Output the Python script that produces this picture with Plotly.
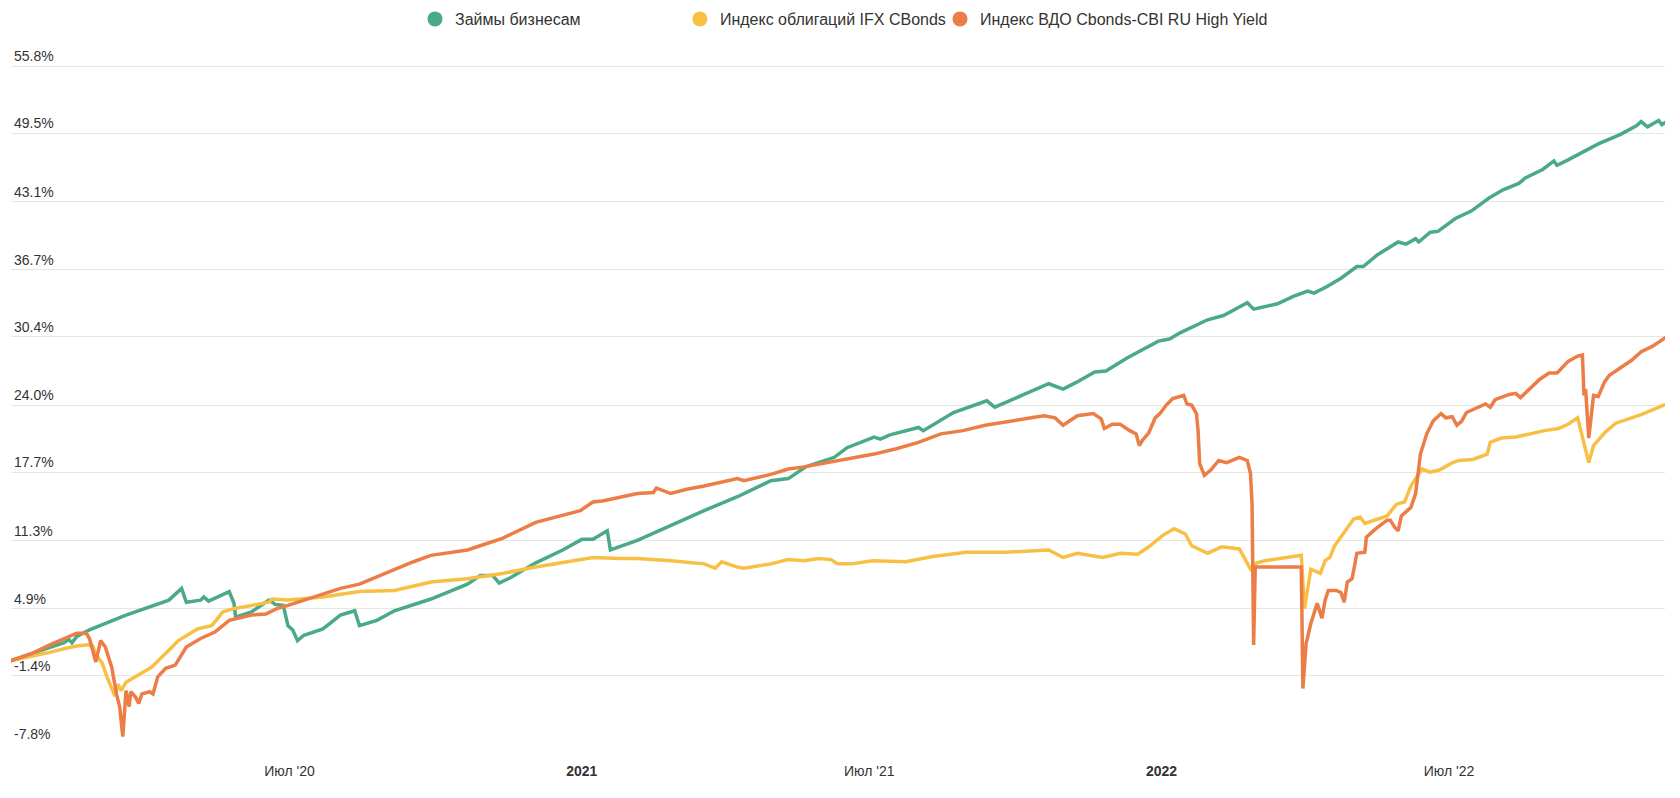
import datetime as dt
import plotly.graph_objects as go

BASE = dt.date(2020, 1, 1)

series_names = ["Займы бизнесам", "Индекс облигаций IFX CBonds", "Индекс ВДО Cbonds-CBI RU High Yield"]
series_colors = ["#4BAA86", "#F7C045", "#EC7D47"]

# day offsets from 2020-01-01 and cumulative return, %
green_day = [6, 27, 40, 43, 45, 48, 56, 79, 97, 106, 114, 117, 126, 128, 131, 144, 147, 148, 158, 169,
             173, 178, 181, 184, 187, 191, 203, 214, 223, 226, 237, 248, 271, 294, 302, 310, 314, 321, 337, 354,
             366, 373, 382, 384, 401, 422, 443, 464, 485, 496, 507, 525, 533, 550, 554, 560, 578, 581, 600, 621,
             626, 643, 660, 669, 677, 689, 696, 709, 719, 729, 736, 743, 760, 770, 780, 785, 789, 804, 814, 823,
             827, 835, 844, 854, 858, 867, 880, 885, 891, 893, 900, 905, 916, 926, 937, 946, 956, 960, 971, 978,
             980, 987, 1006, 1020, 1030, 1033, 1037, 1044, 1046, 1049]
green_val = [0.0, 1.1, 1.7, 2.0, 1.7, 2.3, 2.9, 4.3, 5.2, 5.7, 6.8, 5.5, 5.7, 6.0, 5.6, 6.5, 5.4, 4.1, 4.6, 5.7,
             5.3, 5.2, 3.3, 2.9, 1.9, 2.4, 3.0, 4.3, 4.7, 3.3, 3.8, 4.7, 5.8, 7.2, 8.0, 8.0, 7.3, 7.8, 9.2, 10.4,
             11.4, 11.4, 12.2, 10.4, 11.3, 12.7, 14.1, 15.4, 16.9, 17.1, 18.2, 19.1, 20.0, 21.0, 20.8, 21.2, 21.9, 21.6, 23.3, 24.4,
             23.8, 24.9, 26.0, 25.5, 26.1, 27.1, 27.2, 28.4, 29.2, 30.0, 30.2, 30.8, 32.0, 32.4, 33.2, 33.6, 33.0, 33.5, 34.2, 34.7,
             34.5, 35.1, 35.9, 37.0, 37.0, 38.1, 39.3, 39.1, 39.6, 39.3, 40.2, 40.3, 41.5, 42.2, 43.4, 44.2, 44.8, 45.3, 46.1, 46.9,
             46.5, 47.0, 48.5, 49.4, 50.2, 50.6, 50.1, 50.7, 50.3, 50.6]

yellow_day = [6, 19, 31, 42, 48, 55, 58, 60, 64, 67, 70, 72, 74, 76, 79, 85, 95, 106, 112, 124,
              133, 140, 147, 158, 169, 171, 181, 203, 226, 248, 271, 294, 316, 337, 354, 373, 390, 401, 422, 443,
              450, 454, 464, 468, 485, 496, 506, 515, 523, 527, 536, 549, 570, 587, 608, 633, 660, 669, 678, 694,
              705, 716, 723, 732, 739, 746, 750, 760, 769, 780, 783, 787, 791, 796, 819, 821, 825, 831, 834, 837,
              840, 844, 852, 856, 859, 871, 873, 879, 884, 888, 895, 900, 906, 913, 918, 927, 936, 938, 945, 954,
              972, 981, 987, 993, 998, 1000, 1003, 1010, 1017, 1033, 1049]
yellow_val = [0.0, 0.4, 0.8, 1.2, 1.4, 1.5, 1.4, 0.6, -0.2, -1.5, -2.5, -3.3, -2.2, -2.8, -2.0, -1.5, -0.6, 1.0, 1.9, 3.0,
              3.3, 4.6, 4.9, 5.2, 5.5, 5.8, 5.7, 6.0, 6.5, 6.6, 7.4, 7.7, 8.2, 8.8, 9.2, 9.7, 9.6, 9.6, 9.4, 9.1,
              8.7, 9.3, 8.8, 8.7, 9.1, 9.5, 9.4, 9.6, 9.5, 9.1, 9.1, 9.4, 9.3, 9.8, 10.2, 10.2, 10.4, 9.7, 10.1, 9.7,
              10.1, 10.0, 10.7, 11.8, 12.4, 11.9, 10.8, 10.1, 10.7, 10.5, 9.7, 8.6, 9.2, 9.4, 9.9, 4.9, 8.6, 8.2, 9.4, 9.7,
              10.8, 11.6, 13.3, 13.5, 12.9, 13.5, 13.6, 14.7, 14.9, 16.4, 18.0, 17.7, 17.9, 18.5, 18.8, 18.9, 19.4, 20.5, 20.9, 21.0,
              21.6, 21.8, 22.2, 22.8, 20.0, 18.6, 20.2, 21.4, 22.3, 23.1, 24.1]

orange_day = [6, 20, 31, 42, 48, 54, 56, 58, 60, 63, 66, 70, 71, 73, 75, 77, 79, 81, 82, 85,
              87, 89, 94, 96, 99, 104, 110, 117, 126, 135, 144, 158, 167, 174, 181, 191, 203, 214, 226, 237,
              248, 260, 271, 282, 294, 302, 316, 337, 358, 365, 373, 379, 401, 411, 413, 422, 432, 443, 464, 468,
              485, 496, 506, 521, 535, 550, 564, 578, 592, 606, 620, 635, 649, 657, 664, 669, 678, 688, 693, 695,
              700, 705, 711, 715, 717, 719, 723, 727, 730, 734, 738, 745, 747, 750, 753, 754, 755, 758, 762, 767,
              772, 780, 785, 787, 788, 789, 790, 819, 820, 822, 825, 829, 832, 834, 836, 841, 844, 846, 848, 851,
              854, 859, 860, 866, 873, 875, 878, 880, 882, 888, 891, 894, 898, 902, 907, 910, 914, 917, 920, 923,
              935, 938, 941, 950, 954, 957, 963, 969, 975, 980, 987, 993, 996, 997, 998, 1000, 1003, 1006, 1010, 1013,
              1020, 1027, 1033, 1040, 1049]
orange_val = [0.0, 0.7, 1.5, 2.2, 2.6, 2.6, 2.1, 1.0, -0.1, 1.9, 1.3, -0.6, -1.5, -3.1, -4.3, -7.1, -2.8, -4.3, -2.9, -3.4,
              -4.0, -3.1, -2.9, -3.1, -1.5, -0.7, -0.4, 1.3, 2.1, 2.7, 3.8, 4.3, 4.4, 4.9, 5.2, 5.7, 6.3, 6.8, 7.2, 7.9,
              8.6, 9.3, 9.9, 10.1, 10.4, 10.8, 11.5, 13.0, 13.8, 14.1, 14.9, 15.0, 15.7, 15.8, 16.2, 15.7, 16.1, 16.4, 17.1, 16.9,
              17.5, 18.0, 18.2, 18.6, 19.0, 19.4, 19.9, 20.5, 21.3, 21.6, 22.1, 22.5, 22.8, 23.0, 22.8, 22.1, 23.0, 23.2, 22.7, 21.8,
              22.2, 22.2, 21.6, 21.3, 20.2, 20.7, 21.4, 22.8, 23.2, 24.0, 24.6, 24.9, 24.1, 24.0, 23.2, 21.6, 18.5, 17.4, 17.9, 18.8,
              18.6, 19.1, 18.8, 17.6, 14.7, 1.5, 8.8, 8.8, -2.6, 1.6, 3.5, 5.4, 4.0, 5.7, 6.6, 6.6, 6.4, 5.5, 7.4, 7.7,
              10.1, 10.2, 11.6, 12.4, 13.2, 13.2, 12.5, 12.2, 13.6, 14.4, 15.7, 19.4, 21.3, 22.5, 23.2, 22.8, 22.9, 22.1, 22.5, 23.3,
              24.1, 23.8, 24.5, 25.0, 25.1, 24.7, 25.5, 26.4, 27.0, 27.0, 28.1, 28.6, 28.7, 24.9, 25.5, 20.9, 24.9, 24.8, 26.2, 26.8,
              27.5, 28.2, 29.0, 29.5, 30.4]

y_ticks = [-7.8, -1.4, 4.9, 11.3, 17.7, 24.0, 30.4, 36.7, 43.1, 49.5, 55.8]
y_tick_labels = ["-7.8%", "-1.4%", "4.9%", "11.3%", "17.7%", "24.0%", "30.4%", "36.7%", "43.1%", "49.5%", "55.8%"]
x_tick_dates = ["2020-07-01", "2021-01-01", "2021-07-01", "2022-01-01", "2022-07-01"]
x_tick_labels = ["Июл '20", "<b>2021</b>", "Июл '21", "<b>2022</b>", "Июл '22"]


def to_dates(days):
    return [BASE + dt.timedelta(days=d) for d in days]


legend_ids = ["legend", "legend2", "legend3"]
legend_x = [0.2446, 0.4038, 0.5601]

fig = go.Figure()
all_series = [(green_day, green_val), (yellow_day, yellow_val), (orange_day, orange_val)]
for (days, vals), name, color in zip(all_series, series_names, series_colors):
    fig.add_trace(go.Scatter(
        x=to_dates(days), y=vals, mode="lines", name=name, legendgroup=name,
        showlegend=False, line=dict(color=color, width=3.5),
        hovertemplate="%{x|%d.%m.%Y}: %{y:.1f}%<extra>" + name + "</extra>",
    ))
for name, color, lid in zip(series_names, series_colors, legend_ids):
    fig.add_trace(go.Scatter(
        x=[None], y=[None], mode="markers", name=name, legendgroup=name, legend=lid,
        marker=dict(color=color, size=15, symbol="circle"),
    ))

x_start = dt.datetime(2020, 1, 1) + dt.timedelta(days=6.6)
x_end = dt.datetime(2020, 1, 1) + dt.timedelta(days=1048.0)

font_family = "Liberation Sans, Arial, Helvetica, sans-serif"
legend_style = dict(
    orientation="h", xref="container", xanchor="left", y=1.0416, yanchor="middle",
    font=dict(size=16, color="#333333"), itemwidth=30, bgcolor="rgba(0,0,0,0)",
)
fig.update_layout(
    width=1664, height=782,
    margin=dict(l=3, r=7, t=40, b=45, autoexpand=False),
    paper_bgcolor="white", plot_bgcolor="white",
    font=dict(family=font_family, size=14, color="#333333"),
    showlegend=True,
    xaxis=dict(
        type="date", range=[x_start, x_end], showgrid=False, zeroline=False,
        showline=False, ticks="", tickvals=x_tick_dates, ticktext=x_tick_labels,
        tickfont=dict(size=14, color="#333333"), ticklabelstandoff=16,
    ),
    yaxis=dict(
        range=[-7.894, 57.50], tickvals=y_ticks, ticktext=y_tick_labels,
        showgrid=True, gridcolor="#e6e6e6", gridwidth=1, zeroline=False, showline=False,
        ticks="", ticklabelposition="inside top", tickfont=dict(size=14, color="#333333"),
    ),
)
for lid, lx in zip(legend_ids, legend_x):
    fig.update_layout({lid: dict(legend_style, x=lx)})

fig.write_html("out.html")
